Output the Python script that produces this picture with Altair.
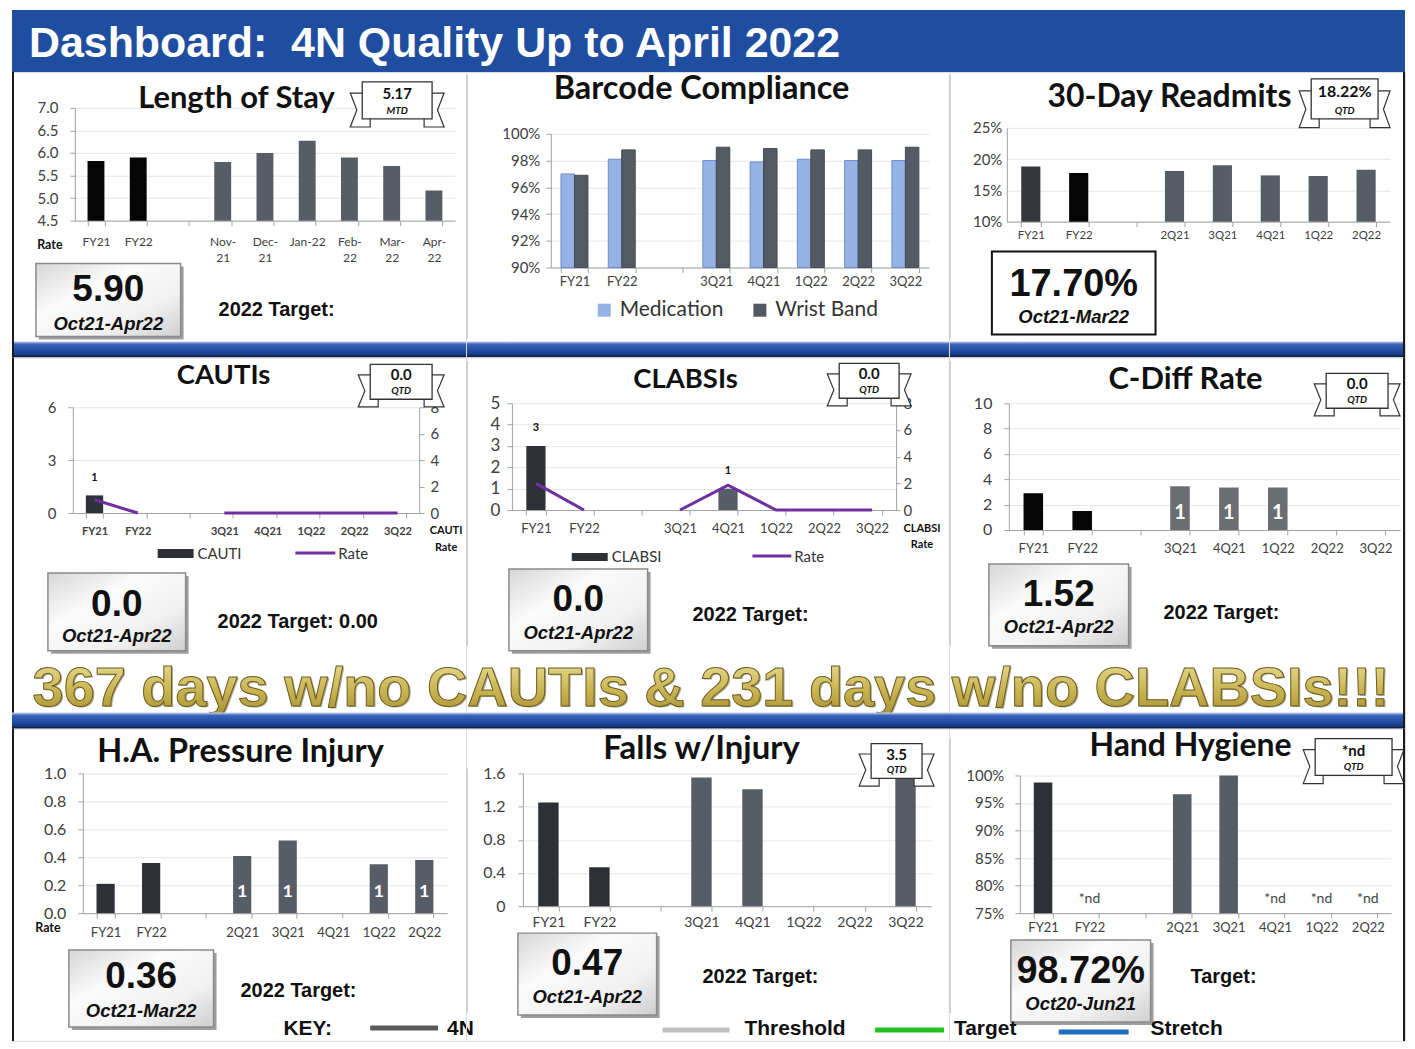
import altair as alt
import pandas as pd

LOS_CATS = ["FY21", "FY22", " ", "Nov-|21", "Dec-|21", "Jan-22", "Feb-|22", "Mar-|22", "Apr-|22"]
LOS_VALUES = [5.82, 5.90, None, 5.80, 6.00, 6.27, 5.90, 5.71, 5.17]

BC_CATS = ["FY21", "FY22", " ", "3Q21", "4Q21", "1Q22", "2Q22", "3Q22"]
BC_SERIES = ["Medication", "Wrist Band"]
BC_MEDICATION = [97.0, 98.1, None, 98.0, 97.9, 98.1, 98.0, 98.0]
BC_WRISTBAND = [96.9, 98.8, None, 99.0, 98.9, 98.8, 98.8, 99.0]

RA_CATS = ["FY21", "FY22", " ", "2Q21", "3Q21", "4Q21", "1Q22", "2Q22"]
RA_VALUES = [18.8, 17.8, None, 18.1, 19.0, 17.4, 17.3, 18.3]

CA_CATS = ["FY21", "FY22", " ", "3Q21", "4Q21", "1Q22", "2Q22", "3Q22"]
CA_COUNTS = [1, 0, None, 0, 0, 0, 0, 0]
CA_RATES = [1.0, 0.0, None, 0.0, 0.0, 0.0, 0.0, 0.0]

CL_CATS = ["FY21", "FY22", " ", "3Q21", "4Q21", "1Q22", "2Q22", "3Q22"]
CL_COUNTS = [3, 0, None, 0, 1, 0, 0, 0]
CL_RATES = [2.0, 0.0, None, 0.0, 1.87, 0.0, 0.0, 0.0]

CD_CATS = ["FY21", "FY22", " ", "3Q21", "4Q21", "1Q22", "2Q22", "3Q22"]
CD_RATES = [2.9, 1.5, None, 3.45, 3.35, 3.35, None, None]
CD_COUNTS = [None, None, None, 1, 1, 1, None, None]

PI_CATS = ["FY21", "FY22", " ", "2Q21", "3Q21", "4Q21", "1Q22", "2Q22"]
PI_RATES = [0.21, 0.36, None, 0.41, 0.52, None, 0.35, 0.38]
PI_COUNTS = [None, None, None, 1, 1, None, 1, 1]

FA_CATS = ["FY21", "FY22", " ", "3Q21", "4Q21", "1Q22", "2Q22", "3Q22"]
FA_RATES = [1.25, 0.47, None, 1.55, 1.41, None, None, 3.5]

HH_CATS = ["FY21", "FY22", " ", "2Q21", "3Q21", "4Q21", "1Q22", "2Q22"]
HH_RATES = [98.7, None, None, 96.6, 100.0, None, None, None]
HH_NOTES = [None, "*nd", None, None, None, "*nd", "*nd", "*nd"]

# ---------------- styling ----------------
ARIAL = "Liberation Sans"
CAL = "Lato"
AXC = "#a3a3a3"
GRID = "#e6e6e6"
LAB = "#404040"
PURPLE = "#7030a0"
BLUE = "#1f4d9f"
FYK = "#2d3036"
QG = "#575d66"

W1, W2, W3 = 455, 484, 457
WT = W1 + W2 + W3
# cell heights: row 1 includes the first blue bar, row 2 includes headline + second bar
H1, H2, H3 = 286, 372, 313
BANNER_H = 62

ONE = pd.DataFrame({"k": [0]})


def txt(s, x, y, size, font=ARIAL, weight="bold", style="normal", color="#111111",
        align="center", baseline="alphabetic", **kw):
    return alt.Chart(ONE).mark_text(
        text=s, font=font, fontSize=size, fontWeight=weight, fontStyle=style, color=color,
        align=align, baseline=baseline, **kw
    ).encode(x=alt.value(x), y=alt.value(y))


def rect(x1, y1, x2, y2, fill, stroke=None, sw=0):
    kw = dict(fill=fill)
    if stroke:
        kw.update(stroke=stroke, strokeWidth=sw)
    return alt.Chart(ONE).mark_rect(**kw).encode(
        x=alt.value(x1), x2=alt.value(x2), y=alt.value(y1), y2=alt.value(y2))


def rule(x1, y1, x2, y2, color, w):
    return alt.Chart(ONE).mark_rule(color=color, strokeWidth=w).encode(
        x=alt.value(x1), x2=alt.value(x2), y=alt.value(y1), y2=alt.value(y2))


def title(s, x, y, size=32):
    return txt(s, x, y, size, font=CAL, weight="bold", color="#111111")


def badge(x1, y1, x2, y2, top, bottom, top_size=15):
    w, h = x2 - x1, y2 - y1
    cx, cy = (x1 + x2) / 2, (y1 + y2) / 2
    T = 12
    half = w / 2 + T

    def P(px, py):
        return f"{px / half:.4f},{py / half:.4f}"

    L, R = -w / 2, w / 2
    ty1, ty2 = -0.2 * h, 0.72 * h
    tm = (ty1 + ty2) / 2
    left = (f"M{P(L + 6, ty1)}L{P(L - T, ty1)}L{P(L - T + 0.55 * T, tm)}"
            f"L{P(L - T, ty2)}L{P(L + 8, ty2)}L{P(L + 8, h / 2)}Z")
    right = (f"M{P(R - 6, ty1)}L{P(R + T, ty1)}L{P(R + T - 0.55 * T, tm)}"
             f"L{P(R + T, ty2)}L{P(R - 8, ty2)}L{P(R - 8, h / 2)}Z")
    tails = alt.Chart(ONE).mark_point(
        shape=left + right, size=(2 * half) ** 2, filled=True, fill="white",
        stroke="#333333", strokeWidth=1.2, opacity=1
    ).encode(x=alt.value(cx), y=alt.value(cy))
    front = rect(x1, y1, x2, y2, "white", "#333333", 1.3)
    t1 = txt(top, cx, y1 + 0.46 * h, top_size, font=CAL, weight="bold")
    t2 = txt(bottom, cx, y2 - 5, 10, font=CAL, weight="bold", style="italic")
    return [tails, front, t1, t2]


BOX_GRAD = alt.LinearGradient(
    gradient="linear", x1=0, x2=1, y1=0, y2=1,
    stops=[alt.GradientStop(color="#d6d6d6", offset=0),
           alt.GradientStop(color="#fbfbfb", offset=0.35),
           alt.GradientStop(color="#f1f1f1", offset=0.7),
           alt.GradientStop(color="#cfcfcf", offset=1)])


def value_box(x1, y1, x2, y2, big, small, by, sy, big_size=37, small_size=18.5, plain=False):
    cx = (x1 + x2) / 2
    if plain:
        layers = [rect(x1, y1, x2, y2, "white", "#111111", 2)]
    else:
        layers = [rect(x1 + 3, y1 + 3, x2 + 3, y2 + 3, "#9e9e9e"),
                  rect(x1, y1, x2, y2, BOX_GRAD, "#8a8a8a", 1.5)]
    layers.append(txt(big, cx, by, big_size))
    layers.append(txt(small, cx, sy, small_size, style="italic"))
    return layers


def xenc(cats, r, H, ybot, size=12, weight="normal", pad=8, expr=None, lh=None, pi=0.6):
    kw = dict(title=None, orient="bottom", offset=-(H - ybot), labelAngle=0, tickBand="extent",
              domainColor=AXC, tickColor=AXC, tickSize=5, labelFont=CAL, labelFontSize=size,
              labelColor=LAB, labelFontWeight=weight, labelPadding=pad, grid=False,
              labelBaseline="top")
    if expr:
        kw["labelExpr"] = expr
    if lh:
        kw["labelLineHeight"] = lh
    return alt.X("cat:N", sort=cats,
                 scale=alt.Scale(domain=cats, range=r, paddingInner=pi, paddingOuter=pi / 2),
                 axis=alt.Axis(**kw))


def yenc(field, dom, r, axx, ticks, W=None, orient="left", size=15, pad=12, tick=5,
         expr=None, fmt=None, grid=True, clamp=False):
    off = -axx if orient == "left" else -(W - axx)
    kw = dict(title=None, orient=orient, offset=off, values=ticks, grid=grid, gridColor=GRID,
              domainColor=AXC, tickColor=AXC, tickSize=tick, labelFont=CAL, labelFontSize=size,
              labelColor=LAB, labelPadding=pad)
    if expr:
        kw["labelExpr"] = expr
    if fmt:
        kw["format"] = fmt
    return alt.Y(f"{field}:Q",
                 scale=alt.Scale(domain=dom, range=r, nice=False, zero=False, clamp=clamp),
                 axis=alt.Axis(**kw))


def colorenc(cats, colors):
    return alt.Color("cat:N", scale=alt.Scale(domain=cats, range=colors), legend=None)


def seg_of(c):
    return "fy" if c.startswith("FY") else "q"


def LEFT_BORDER(H):
    return rect(0, 0, 2, H, "#1a1a1a")


def RIGHT_BORDER(H):
    return rect(W3 - 2, 0, W3, H, "#1a1a1a")


def divider(y1, y2):
    return rect(0, y1, 2, y2, "#cfcfcf")


SEP_GRAD = alt.LinearGradient(
    gradient="linear", x1=0, x2=0, y1=0, y2=1,
    stops=[alt.GradientStop(color="#c9d3ec", offset=0),
           alt.GradientStop(color="#3a63ba", offset=0.18),
           alt.GradientStop(color="#1f4ca2", offset=0.6),
           alt.GradientStop(color="#102a66", offset=1)])


def separator(y, x0=0):
    return [rect(x0, y, x0 + WT, y + 16, SEP_GRAD), rect(x0, y + 14.5, x0 + WT, y + 16, "#0d1f4d")]


GOLD = alt.LinearGradient(
    gradient="linear", x1=0, x2=0, y1=0, y2=1,
    stops=[alt.GradientStop(color="#eee3a0", offset=0),
           alt.GradientStop(color="#cbb653", offset=0.55),
           alt.GradientStop(color="#a48d30", offset=1)])
HEADLINE = "367 days w/no CAUTIs & 231 days w/no CLABSIs!!!"

# ================= ROW 1 (with banner above and first blue bar below) =================
los_df = pd.DataFrame({"cat": LOS_CATS, "val": LOS_VALUES})
X = xenc(LOS_CATS, [63, 444], H1, 149, size=12, pad=11, expr="split(datum.label, '|')", lh=16)
Y = yenc("val", [4.5, 7.0], [149, 36], 63, [4.5, 5.0, 5.5, 6.0, 6.5, 7.0], size=15, pad=12, fmt=".1f")
los = alt.layer(
    rect(0, -BANNER_H, WT, 0, BLUE),
    txt("Dashboard:\u00a0 4N Quality Up to April 2022", 17, -15, 43, color="white", align="left"),
    alt.Chart(los_df).mark_bar().encode(
        x=X, y=Y, y2=alt.datum(4.5),
        color=colorenc(LOS_CATS, ["#050505", "#050505", "#050505"] + [QG] * 6)),
    title("Length of Stay", 225, 36, size=31),
    *badge(351, 10, 421, 47, "5.17", "MTD"),
    *value_box(24, 192, 169, 265, "5.90", "Oct21-Apr22", 230, 259),
    txt("2022 Target:", 207, 245, 20, align="left"),
    txt("Rate", 38, 177, 12.5, font=CAL),
    *separator(270),
    LEFT_BORDER(H1),
).properties(width=W1, height=H1)

bc_rows = []
for c, m, w in zip(BC_CATS, BC_MEDICATION, BC_WRISTBAND):
    bc_rows.append({"cat": c, "series": BC_SERIES[0], "val": m})
    bc_rows.append({"cat": c, "series": BC_SERIES[1], "val": w})
bc_df = pd.DataFrame(bc_rows)
X = xenc(BC_CATS, [85, 464], H1, 196, size=13, pad=3, pi=0.43)
Y = yenc("val", [90, 100], [196, 62], 85, [90, 92, 94, 96, 98, 100], size=15, pad=6,
         expr="datum.value + '%'")
barcode = alt.layer(
    alt.Chart(bc_df).mark_bar(strokeWidth=1).encode(
        x=X, y=Y, y2=alt.datum(90),
        xOffset=alt.XOffset("series:N", sort=BC_SERIES,
                            scale=alt.Scale(domain=BC_SERIES, paddingInner=0, paddingOuter=0)),
        color=alt.Color("series:N",
                        scale=alt.Scale(domain=BC_SERIES, range=["#97b2e4", "#545a64"]),
                        legend=alt.Legend(orient="none", legendX=128, legendY=228,
                                          direction="horizontal", title=None,
                                          symbolType="square", symbolSize=170,
                                          symbolStrokeWidth=0, labelFont=CAL,
                                          labelFontSize=21, labelColor="#333333",
                                          columnPadding=26, labelOffset=5)),
        stroke=alt.Stroke("series:N",
                          scale=alt.Scale(domain=BC_SERIES, range=["#6a8bd0", "#454a52"]),
                          legend=None)),
    title("Barcode Compliance", 236, 27, size=32.5),
    divider(3, 267),
).properties(width=W2, height=H1)

ra_df = pd.DataFrame({"cat": RA_CATS, "val": RA_VALUES})
X = xenc(RA_CATS, [58, 442], H1, 150, size=11.5, pad=3)
Y = yenc("val", [10, 25], [150, 56], 58, [10, 15, 20, 25], size=15, pad=5, tick=0,
         expr="datum.value + '%'")
readmit = alt.layer(
    alt.Chart(ra_df).mark_bar().encode(
        x=X, y=Y, y2=alt.datum(10),
        color=colorenc(RA_CATS, ["#34373c", "#050505", "#050505"] + [QG] * 5)),
    title("30-Day Readmits", 221, 35, size=32),
    *badge(363, 7, 430, 47, "18.22%", "QTD", top_size=16),
    *value_box(43, 180, 207, 263, "17.70%", "Oct21-Mar22", 225, 252, big_size=38, plain=True),
    divider(3, 267),
    RIGHT_BORDER(H1),
).properties(width=W3, height=H1)

# ================= ROW 2 (with headline and second blue bar below) =================
ca_df = pd.DataFrame({"cat": CA_CATS, "count": CA_COUNTS, "rate": CA_RATES,
                      "seg": [seg_of(c) for c in CA_CATS]})
X = xenc(CA_CATS, [61, 408], H2, 156, size=11, weight="bold", pad=8)
YL = yenc("count", [0, 6], [156, 50], 61, [0, 3, 6], size=15, pad=12)
YR = yenc("rate", [0, 8], [156, 50], 408, [0, 2, 4, 6, 8], W=W1, orient="right", size=15,
          pad=6, grid=False)
ca_left = alt.layer(
    alt.Chart(ca_df).mark_bar().encode(
        x=X, y=YL, y2=alt.datum(0), color=colorenc(CA_CATS, [FYK, FYK, FYK] + [QG] * 5)),
    alt.Chart(ca_df).transform_filter("datum.count > 0").mark_text(
        dy=-17, font=CAL, fontWeight="bold", fontSize=11, color="#111111").encode(
        x=X, y=YL, text=alt.Text("count:Q", format="d")),
)
ca_right = alt.Chart(ca_df).transform_filter("isValid(datum.rate)").mark_line(
    color=PURPLE, strokeWidth=3).encode(x=X, y=YR, detail="seg:N")
cauti = alt.layer(
    ca_left, ca_right,
    title("CAUTIs", 212, 27, size=27.5),
    *badge(359, 7, 421, 42, "0.0", "QTD"),
    txt("CAUTI", 435, 177, 11, font=CAL),
    txt("Rate", 435, 194, 11, font=CAL),
    rect(146, 192, 182, 201, FYK),
    txt("CAUTI", 186, 197, 15, font=CAL, weight="normal", color="#333333", align="left",
        baseline="middle"),
    rule(284, 196, 324, 196, PURPLE, 3),
    txt("Rate", 327, 197, 15, font=CAL, weight="normal", color="#333333", align="left",
        baseline="middle"),
    *value_box(36, 216, 174, 294, "0.0", "Oct21-Apr22", 259, 285),
    txt("2022 Target: 0.00", 206, 271, 20, align="left"),
    LEFT_BORDER(H2),
).resolve_scale(y="independent").properties(width=W1, height=H2)

cl_df = pd.DataFrame({"cat": CL_CATS, "count": CL_COUNTS, "rate": CL_RATES,
                      "seg": [seg_of(c) for c in CL_CATS]})
X = xenc(CL_CATS, [46, 431], H2, 153, size=13, pad=8)
YL = yenc("count", [0, 5], [153, 46], 46, [0, 1, 2, 3, 4, 5], size=17, pad=7)
YR = yenc("rate", [0, 8], [153, 46], 431, [0, 2, 4, 6, 8], W=W2, orient="right", size=15,
          pad=3, tick=4, grid=False)
cl_left = alt.layer(
    alt.Chart(cl_df).mark_bar().encode(
        x=X, y=YL, y2=alt.datum(0), color=colorenc(CL_CATS, [FYK, FYK, FYK] + [QG] * 5)),
    alt.Chart(cl_df).transform_filter("datum.count > 0").mark_text(
        dy=-18, font=CAL, fontWeight="bold", fontSize=11, color="#111111").encode(
        x=X, y=YL, text=alt.Text("count:Q", format="d")),
)
cl_right = alt.Chart(cl_df).transform_filter("isValid(datum.rate)").mark_line(
    color=PURPLE, strokeWidth=3).encode(x=X, y=YR, detail="seg:N")
clabsi = alt.layer(
    cl_left, cl_right,
    title("CLABSIs", 220, 31, size=27.5),
    *badge(374, 6, 434, 41, "0.0", "QTD"),
    txt("CLABSI", 457, 175, 11, font=CAL),
    txt("Rate", 457, 191, 11, font=CAL),
    rect(106, 196, 142, 204, FYK),
    txt("CLABSI", 146, 200, 15, font=CAL, weight="normal", color="#333333", align="left",
        baseline="middle"),
    rule(287, 199, 326, 199, PURPLE, 3),
    txt("Rate", 329, 200, 15, font=CAL, weight="normal", color="#333333", align="left",
        baseline="middle"),
    *value_box(43, 212, 182, 294, "0.0", "Oct21-Apr22", 254, 282),
    txt("2022 Target:", 227, 264, 20, align="left"),
    divider(4, 289),
).resolve_scale(y="independent").properties(width=W2, height=H2)

# the headline and the second blue bar are drawn from the last cell of row 2 (on top of row 2)
X0 = -(W1 + W2)
cd_df = pd.DataFrame({"cat": CD_CATS, "val": CD_RATES, "n": CD_COUNTS})
X = xenc(CD_CATS, [60, 452], H2, 173, size=13, pad=8)
Y = yenc("val", [0, 10], [173, 46], 60, [0, 2, 4, 6, 8, 10], size=16, pad=12)
cdiff = alt.layer(
    alt.Chart(cd_df).mark_bar().encode(
        x=X, y=Y, y2=alt.datum(0),
        color=colorenc(CD_CATS, ["#050505", "#050505", "#050505"] + ["#6c6d70"] * 5)),
    alt.Chart(cd_df).transform_filter("isValid(datum.n)").mark_text(
        dy=-17, font=CAL, fontWeight="bold", fontSize=20, color="white").encode(
        x=X, y=alt.datum(0), text=alt.Text("n:Q", format="d")),
    title("C-Diff Rate", 237, 32, size=31),
    *badge(378, 16, 440, 51, "0.0", "QTD"),
    *value_box(40, 207, 180, 289, "1.52", "Oct21-Apr22", 249, 276),
    txt("2022 Target:", 215, 262, 20, align="left"),
    divider(4, 289),
    txt(HEADLINE, X0 + 702, 350.5, 56, color="#6e6231", opacity=0.55),
    txt(HEADLINE, X0 + 700.5, 349, 56, color=GOLD, stroke="#6b5c20", strokeWidth=1),
    *separator(356, X0),
    RIGHT_BORDER(H2),
).properties(width=W3, height=H2)

# ================= ROW 3 =================
KEY_Y = 307
pi_df = pd.DataFrame({"cat": PI_CATS, "val": PI_RATES, "n": PI_COUNTS})
X = xenc(PI_CATS, [71, 436], H3, 185, size=13, pad=8)
Y = yenc("val", [0, 1], [185, 45], 71, [0, 0.2, 0.4, 0.6, 0.8, 1.0], size=16, pad=12, fmt=".1f")
hapi = alt.layer(
    alt.Chart(pi_df).mark_bar().encode(
        x=X, y=Y, y2=alt.datum(0), color=colorenc(PI_CATS, [FYK, FYK, FYK] + [QG] * 5)),
    alt.Chart(pi_df).transform_filter("isValid(datum.n)").mark_text(
        dy=-21, font=CAL, fontWeight="bold", fontSize=18, color="white").encode(
        x=X, y=alt.datum(0), text=alt.Text("n:Q", format="d")),
    title("H.A. Pressure Injury", 229, 34, size=32.5),
    txt("Rate", 36, 204, 12.5, font=CAL),
    *value_box(57, 222, 202, 299, "0.36", "Oct21-Mar22", 260, 289),
    txt("2022 Target:", 229, 269, 20, align="left"),
    txt("KEY:", 272, KEY_Y, 21, align="left"),
    rule(359, KEY_Y - 7, 427, KEY_Y - 7, "#5a5a5a", 5),
    txt("4N", 436, KEY_Y, 21, align="left"),
    LEFT_BORDER(H3),
).properties(width=W1, height=H3)

fa_df = pd.DataFrame({"cat": FA_CATS, "val": FA_RATES})
X = xenc(FA_CATS, [57, 466], H3, 178, size=14, pad=4)
Y = yenc("val", [0, 1.6], [178, 45], 57, [0, 0.4, 0.8, 1.2, 1.6], size=16, pad=13, fmt="~g",
         clamp=True)
falls = alt.layer(
    alt.Chart(fa_df).mark_bar().encode(
        x=X, y=Y, y2=alt.datum(0), color=colorenc(FA_CATS, [FYK, FYK, FYK] + [QG] * 5)),
    title("Falls w/Injury", 236, 30, size=33),
    *badge(406, 15, 457, 50, "3.5", "QTD"),
    *value_box(52, 205, 191, 287, "0.47", "Oct21-Apr22", 247, 275),
    txt("2022 Target:", 237, 255, 20, align="left"),
    rule(197, KEY_Y - 5, 264, KEY_Y - 5, "#bfbfbf", 5),
    txt("Threshold", 279, KEY_Y, 21, align="left"),
    rule(410, KEY_Y - 5, 479, KEY_Y - 5, "#22c122", 5),
    divider(40, 285),
).properties(width=W2, height=H3)

hh_df = pd.DataFrame({"cat": HH_CATS, "val": HH_RATES, "note": HH_NOTES})
X = xenc(HH_CATS, [71, 443], H3, 185, size=13, pad=3)
Y = yenc("val", [75, 100], [185, 47], 71, [75, 80, 85, 90, 95, 100], size=15, pad=11,
         expr="datum.value + '%'")
hand = alt.layer(
    alt.Chart(hh_df).mark_bar().encode(
        x=X, y=Y, y2=alt.datum(75), color=colorenc(HH_CATS, [FYK, FYK, FYK] + [QG] * 5)),
    alt.Chart(hh_df).transform_filter("isValid(datum.note)").mark_text(
        dy=-14, font=CAL, fontSize=14, color="#444444").encode(
        x=X, y=alt.datum(75), text="note:N"),
    title("Hand Hygiene", 242, 27, size=32),
    *badge(367, 10, 444, 47, "*nd", "QTD"),
    *value_box(62, 212, 202, 294, "98.72%", "Oct20-Jun21", 255, 282, big_size=38),
    txt("Target:", 242, 255, 20, align="left"),
    txt("Target", 5, KEY_Y, 21, align="left"),
    rule(110, KEY_Y - 3, 180, KEY_Y - 3, "#1f6fc0", 5),
    txt("Stretch", 202, KEY_Y, 21, align="left"),
    divider(10, 285),
    RIGHT_BORDER(H3),
).properties(width=W3, height=H3)

chart = alt.concat(
    los, barcode, readmit,
    cauti, clabsi, cdiff,
    hapi, falls, hand,
    columns=3, spacing=0, bounds="flush",
).resolve_scale(color="independent").properties(
    padding={"left": 3, "top": 0, "right": 0, "bottom": 0}
).configure_view(stroke=None).configure(background="white")

chart.save("out.html", embed_options={"renderer": "svg", "actions": False})
